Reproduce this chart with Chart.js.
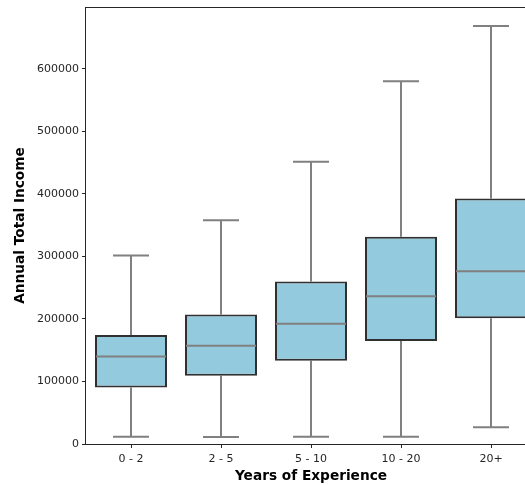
<!DOCTYPE html>
<html>
<head>
<meta charset="utf-8">
<script src="https://cdn.jsdelivr.net/npm/chart.js@4/dist/chart.umd.min.js"></script>
<style>
  html, body { margin: 0; padding: 0; background: #fff; overflow: hidden; }
  #wrap { width: 525px; height: 485px; overflow: hidden; }
  canvas { display: block; }
</style>
</head>
<body>
<div id="wrap"><canvas id="c" width="550" height="485"></canvas></div>
<script>
// Income distribution by years of experience (box plot statistics)
const categories = ['0 - 2', '2 - 5', '5 - 10', '10 - 20', '20+'];
const whiskerLow  = [11700, 11200, 11700, 11700, 26800];
const quartile1   = [90300, 109100, 133200, 164800, 201000];
const medians     = [140100, 157200, 192500, 236300, 276400];
const quartile3   = [174400, 207000, 259900, 331600, 392600];
const whiskerHigh = [301500, 357800, 451300, 580300, 668500];
const yTicks = [0, 100000, 200000, 300000, 400000, 500000, 600000];

const FONT = '"DejaVu Sans", sans-serif';
const GREY = 'rgb(128,128,128)';
const INK = '#262626';

// Whiskers, caps and medians drawn around the floating-bar boxes
const boxPlotPlugin = {
  id: 'boxPlot',
  beforeDatasetsDraw(chart) {
    const ctx = chart.ctx;
    const y = chart.scales.y;
    const meta = chart.getDatasetMeta(0);
    ctx.save();
    ctx.strokeStyle = GREY;
    ctx.lineWidth = 2;
    meta.data.forEach((bar, i) => {
      const cx = bar.x;
      const half = bar.width * 0.25;
      const yLo = y.getPixelForValue(whiskerLow[i]);
      const yHi = y.getPixelForValue(whiskerHigh[i]);
      const yQ1 = y.getPixelForValue(quartile1[i]);
      const yQ3 = y.getPixelForValue(quartile3[i]);
      ctx.beginPath();
      ctx.moveTo(cx, yQ3); ctx.lineTo(cx, yHi);
      ctx.moveTo(cx - half, yHi); ctx.lineTo(cx + half, yHi);
      ctx.moveTo(cx, yQ1); ctx.lineTo(cx, yLo);
      ctx.moveTo(cx - half, yLo); ctx.lineTo(cx + half, yLo);
      ctx.stroke();
    });
    ctx.restore();
  },
  afterDatasetsDraw(chart) {
    const ctx = chart.ctx;
    const y = chart.scales.y;
    const meta = chart.getDatasetMeta(0);
    ctx.save();
    ctx.strokeStyle = GREY;
    ctx.lineWidth = 2;
    meta.data.forEach((bar, i) => {
      const ym = y.getPixelForValue(medians[i]);
      ctx.beginPath();
      ctx.moveTo(bar.x - bar.width / 2 + 1, ym);
      ctx.lineTo(bar.x + bar.width / 2 - 1, ym);
      ctx.stroke();
    });
    // axes frame
    const a = chart.chartArea;
    ctx.strokeStyle = INK;
    ctx.lineWidth = 1;
    ctx.strokeRect(Math.round(a.left) - 0.5, Math.round(a.top) + 0.5,
                   Math.round(a.right - a.left), Math.round(a.bottom - a.top));
    ctx.restore();
  }
};

new Chart(document.getElementById('c'), {
  type: 'bar',
  data: {
    labels: categories,
    datasets: [{
      data: categories.map((_, i) => [quartile1[i], quartile3[i]]),
      backgroundColor: '#93CADE',
      borderColor: 'rgba(30,30,30,0.92)',
      borderWidth: 2,
      borderSkipped: false,
      barPercentage: 0.8,
      categoryPercentage: 1.0
    }]
  },
  options: {
    responsive: false,
    animation: false,
    devicePixelRatio: 1,
    layout: { padding: { top: 7, right: 14, left: 0, bottom: 0 } },
    plugins: { legend: { display: false }, tooltip: { enabled: false } },
    scales: {
      x: {
        type: 'category',
        offset: true,
        border: { display: false },
        grid: { offset: false, drawOnChartArea: false, drawTicks: true, tickLength: 4, color: INK },
        ticks: { color: INK, font: { family: FONT, size: 11 }, padding: 5, maxRotation: 0 },
        title: {
          display: true, text: 'Years of Experience', color: '#000',
          font: { family: FONT, size: 13.7, weight: 'bold' }, padding: { top: 1, bottom: 0 }
        },
        afterFit(scale) {
          scale.height = 41;
          scale.paddingLeft = 0; scale.paddingRight = 0;
        }
      },
      y: {
        min: 0,
        max: 699000,
        border: { display: false },
        grid: { drawOnChartArea: false, drawTicks: true, tickLength: 4, color: INK },
        ticks: {
          color: INK, font: { family: FONT, size: 11 }, padding: 3,
          callback: v => String(v)
        },
        afterBuildTicks(scale) { scale.ticks = yTicks.map(v => ({ value: v })); },
        title: {
          display: true, text: 'Annual Total Income', color: '#000',
          font: { family: FONT, size: 13.7, weight: 'bold' }, padding: { top: 12, bottom: 4 }
        },
        afterFit(scale) {
          scale.width = 86;
          scale.paddingTop = 0; scale.paddingBottom = 0;
        }
      }
    }
  },
  plugins: [boxPlotPlugin]
});
</script>
</body>
</html>
